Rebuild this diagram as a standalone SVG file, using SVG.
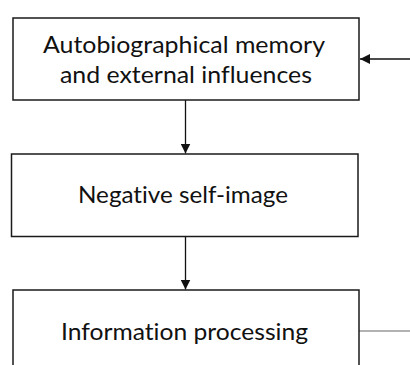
<svg xmlns="http://www.w3.org/2000/svg" width="410" height="365" viewBox="0 0 410 365">
<defs>
<style>
.box{fill:#fff;stroke:#1a1a1a;stroke-width:1.5}
.t{font-family:Lato,"Open Sans",sans-serif;font-size:23.5px;fill:#111;text-anchor:middle;font-variant-ligatures:none;font-feature-settings:"liga" 0,"dlig" 0}
.c{stroke:#111;stroke-width:1.3;fill:none}
</style>
<marker id="ah" viewBox="0 0 10 10" refX="10" refY="5" markerWidth="10" markerHeight="10" markerUnits="userSpaceOnUse" orient="auto">
<path d="M0,0 L10,5 L0,10 z" fill="#111"/>
</marker>
</defs>
<rect width="410" height="365" fill="#fff"/>
<g id="connectors">
<line class="c" x1="410" y1="59" x2="360" y2="59" marker-end="url(#ah)"/>
<line class="c" x1="185.5" y1="100" x2="185.5" y2="153.5" marker-end="url(#ah)"/>
<line class="c" x1="185.5" y1="237" x2="185.5" y2="289.5" marker-end="url(#ah)"/>
<line x1="359" y1="331" x2="410" y2="331" stroke="#999" stroke-width="1.3"/>
</g>
<g id="node-memory">
<rect class="box" x="13" y="18" width="346" height="82"/>
<text class="t" x="184" y="53" textLength="282" lengthAdjust="spacingAndGlyphs">Autobiographical memory</text>
<text class="t" x="186" y="82.5" textLength="252" lengthAdjust="spacingAndGlyphs">and external influences</text>
</g>
<g id="node-selfimage">
<rect class="box" x="11.5" y="154" width="346.5" height="82.5"/>
<text class="t" x="183" y="203" textLength="210" lengthAdjust="spacingAndGlyphs">Negative self-image</text>
</g>
<g id="node-processing">
<rect class="box" x="13" y="290" width="346" height="90"/>
<text class="t" x="184.5" y="340" textLength="247" lengthAdjust="spacingAndGlyphs">Information processing</text>
</g>
</svg>
